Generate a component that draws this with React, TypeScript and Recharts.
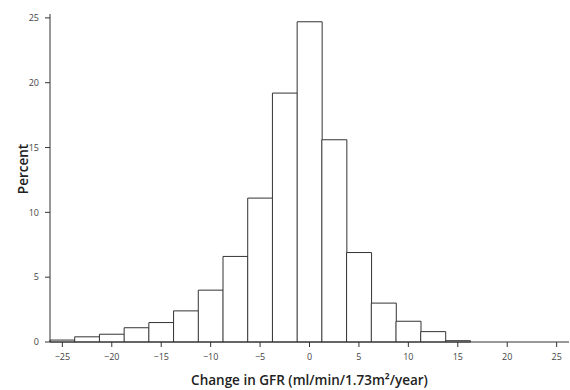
import { BarChart, Bar, XAxis, YAxis, Label } from "recharts";

// bin centres (width 2.5) and percent of patients in each bin
const binCenters = [
    -25, -22.5, -20, -17.5, -15, -12.5, -10, -7.5, -5, -2.5, 0, 2.5, 5, 7.5, 10, 12.5, 15, 17.5, 20, 22.5, 25,
];
const percents = [
    0.15, 0.4, 0.6, 1.1, 1.5, 2.4, 4.0, 6.6, 11.1, 19.2, 24.7, 15.6, 6.9, 3.0, 1.6, 0.8, 0.1, 0, 0, 0, 0,
];
const xTicks = [-25, -20, -15, -10, -5, 0, 5, 10, 15, 20, 25];
const yTicks = [0, 5, 10, 15, 20, 25];

const data = binCenters.map((c, i) => ({ bin: c, pct: percents[i] }));

const fmt = (v) => (v < 0 ? "\u2212" + Math.abs(v) : String(v));
const tickStyle = { fontSize: 9, fill: "#444", fontFamily: "'Open Sans', sans-serif" };
const labelStyle = { fontSize: 13.5, fontWeight: 600, fill: "#222", fontFamily: "'Open Sans', sans-serif" };

const App = () => {
    return (
        <div style={{ position: "absolute", left: 0, top: 0, background: "#fff", width: 570, height: 390 }}>
            <BarChart
                width={570}
                height={390}
                data={data}
                margin={{ top: 14, right: 1, bottom: 0, left: 0 }}
                barCategoryGap={0}
            >
                <XAxis
                    dataKey="bin"
                    ticks={xTicks}
                    interval={0}
                    tickFormatter={fmt}
                    tick={tickStyle}
                    tickSize={5}
                    tickMargin={7}
                    stroke="#333"
                    height={48}
                >
                    <Label
                        value="Change in GFR (ml/min/1.73m²/year)"
                        position="insideBottom"
                        offset={5}
                        style={labelStyle}
                    />
                </XAxis>
                <XAxis xAxisId="top" dataKey="bin" orientation="top" tick={false} tickLine={false} height={0} stroke="#333" />
                <YAxis
                    domain={[0, 25.3]}
                    ticks={yTicks}
                    interval={0}
                    tick={tickStyle}
                    tickSize={5}
                    tickMargin={6}
                    stroke="#333"
                    width={50}
                >
                    <Label
                        value="Percent"
                        angle={-90}
                        position="insideLeft"
                        offset={23}
                        textAnchor="middle"
                        dy={-9}
                        style={labelStyle}
                    />
                </YAxis>
                <YAxis yAxisId="right" orientation="right" tick={false} tickLine={false} width={0} stroke="#999" />
                <Bar dataKey="pct" fill="#fff" stroke="#333" strokeWidth={1} isAnimationActive={false} />
            </BarChart>
        </div>
    );
};

export default App;
